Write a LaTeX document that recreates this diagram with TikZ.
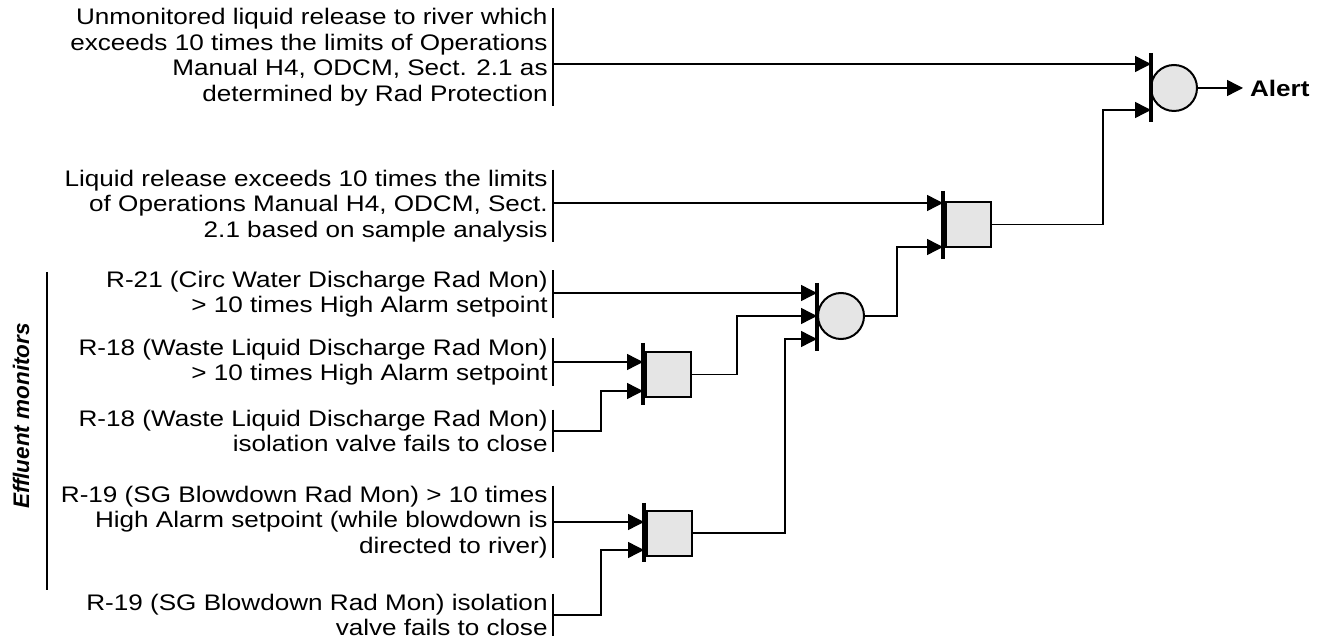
\documentclass[tikz,border=0pt]{standalone}
\usepackage{fontspec}
\setmainfont{Liberation Sans}[FakeStretch=1.16]
\newfontfamily\plainsans{Liberation Sans}
\usetikzlibrary{arrows.meta,calc}

\tikzset{
  txt/.style={anchor=east, align=right, inner xsep=2.5pt, inner ysep=0pt,
    font=\fontsize{11.25}{12.75}\selectfont},
  tbar/.style={line width=0.9pt},
  wire/.style={line width=0.7pt},
  feed/.style={wire, -{Triangle[length=8pt,width=8pt]}},
  gbar/.style={line width=1.8pt},
  orgate/.style={circle, draw, line width=1pt, fill=black!10,
    minimum size=23pt, inner sep=0pt},
  andgate/.style={rectangle, draw, line width=1pt, fill=black!10,
    minimum width=22.5pt, minimum height=22.5pt, inner sep=0pt}
}

\begin{document}
\begin{tikzpicture}[x=0.5pt, y=-0.5pt]

\useasboundingbox (0,0) rectangle (1328,641);

% Conditions
\node[txt] (u1) at (553,57) {Unmonitored liquid release to river which\\
  exceeds 10 times the limits of Operations\\
  Manual H4, ODCM, Sect. 2.1 as\\
  determined by Rad Protection};
\node[txt] (u2) at (553,206) {Liquid release exceeds 10 times the limits\\
  of Operations Manual H4, ODCM, Sect.\\
  2.1 based on sample analysis};
\node[txt] (u3) at (553,294) {R-21 (Circ Water Discharge Rad Mon)\\
  > 10 times High Alarm setpoint};
\node[txt] (u4) at (553,362) {R-18 (Waste Liquid Discharge Rad Mon)\\
  > 10 times High Alarm setpoint};
\node[txt] (u5) at (553,431) {R-18 (Waste Liquid Discharge Rad Mon)\\
  isolation valve fails to close};
\node[txt] (u6) at (553,522) {R-19 (SG Blowdown Rad Mon) > 10 times\\
  High Alarm setpoint (while blowdown is\\
  directed to river)};
\node[txt] (u7) at (553,615) {R-19 (SG Blowdown Rad Mon) isolation\\
  valve fails to close};

\foreach \n in {u1,u2,u3,u4,u5,u6,u7}
  \draw[tbar] (\n.north east) -- (\n.south east);

% Effluent monitors bracket
\node[rotate=90, font=\plainsans\fontsize{11.25}{12.75}\selectfont\bfseries\itshape]
  (eff) at (21,416) {Effluent monitors};
\draw[line width=1pt] (47,272) -- (47,590);

% Gates
\node[orgate] (o1) at (1174,88) {};
\node[orgate] (o2) at (841,316) {};
\node[andgate] (a2) at (968,224.5) {};
\node[andgate] (a1) at (668.5,374.5) {};
\node[andgate] (a3) at (669,533) {};

% Gate inputs
\coordinate (o1a) at (1151,64);
\coordinate (o1b) at (1151,110);
\coordinate (a2a) at (943,203);
\coordinate (a2b) at (943,247);
\coordinate (o2a) at (817,293);
\coordinate (o2b) at (817,316);
\coordinate (o2c) at (817,339);
\coordinate (a1a) at (643,362);
\coordinate (a1b) at (643,391);
\coordinate (a3a) at (644,522);
\coordinate (a3b) at (644,550);

% Result
\node[anchor=west, font=\fontsize{11.25}{12.75}\selectfont\bfseries]
  (alert) at (1243,88) {Alert};

% Wires from conditions
\draw[feed] (u1.east |- o1a) -- (o1a);
\draw[feed] (u2.east |- a2a) -- (a2a);
\draw[feed] (u3.east |- o2a) -- (o2a);
\draw[feed] (u4.east |- a1a) -- (a1a);
\draw[feed] (u5.east) -| (601,391) -- (a1b);
\draw[feed] (u6.east |- a3a) -- (a3a);
\draw[feed] (u7.east) -| (601,550) -- (a3b);

% Wires between gates
\draw[feed] (a1.east) -| (737,316) -- (o2b);
\draw[feed] (a3.east) -| (785,339) -- (o2c);
\draw[feed] (o2.east) -| (897,247) -- (a2b);
\draw[feed] (a2.east) -| (1103,110) -- (o1b);
\draw[feed] (o1.east) -- (alert.west);

% Gate input bars
\draw[gbar] (1151,53) -- (1151,122);
\draw[gbar] (943,191) -- (943,259);
\draw[gbar] (817,283) -- (817,351);
\draw[gbar] (643,343) -- (643,405);
\draw[gbar] (644,503) -- (644,562);

\end{tikzpicture}
\end{document}
